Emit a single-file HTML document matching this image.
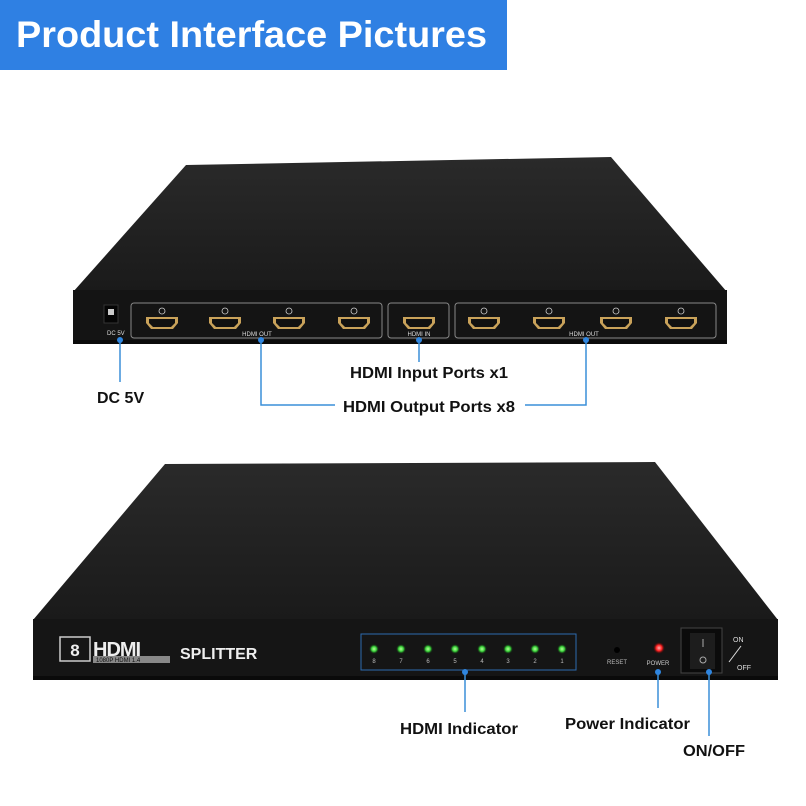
<!DOCTYPE html>
<html><head><meta charset="utf-8"><style>
html,body{margin:0;padding:0;background:#fff;width:806px;height:806px;overflow:hidden}
svg{display:block}
text{font-family:"Liberation Sans",Arial,sans-serif}
</style></head><body>
<svg width="806" height="806" viewBox="0 0 806 806" xmlns="http://www.w3.org/2000/svg">
<defs>
<linearGradient id="top1" x1="0" y1="0" x2="0" y2="1"><stop offset="0" stop-color="#2a2a2a"/><stop offset="1" stop-color="#1a1a1a"/></linearGradient>
<radialGradient id="g" cx="0.5" cy="0.5" r="0.5"><stop offset="0" stop-color="#b8ff9a"/><stop offset="0.5" stop-color="#3bd43b"/><stop offset="1" stop-color="#0a3a0a" stop-opacity="0"/></radialGradient>
<radialGradient id="r" cx="0.5" cy="0.5" r="0.5"><stop offset="0" stop-color="#ffb0b0"/><stop offset="0.5" stop-color="#ff2020"/><stop offset="1" stop-color="#400" stop-opacity="0"/></radialGradient>
<g id="port"><path d="M-16,-6 h32 v6 l-5,6 h-22 l-5,-6 z" fill="#c9a25a"/><path d="M-13,-4 h26 v4 l-4,4 h-18 l-4,-4 z" fill="#111"/></g>
</defs>
<rect x="0" y="0" width="507" height="70" fill="#2f80e3"/>
<text x="16" y="47" font-size="37" font-weight="bold" fill="#fff" textLength="471" lengthAdjust="spacingAndGlyphs">Product Interface Pictures</text>

<polygon points="186,165 611,157 727,292 73,292" fill="url(#top1)"/>
<rect x="73" y="290" width="654" height="54" fill="#141414"/>
<rect x="73" y="340" width="654" height="4" fill="#0a0a0a"/>
<rect x="104" y="305" width="14" height="18" fill="#050505" stroke="#333"/>
<rect x="108" y="309" width="6" height="6" fill="#ccc"/>
<text x="107" y="335" font-size="6" fill="#ddd">DC 5V</text>
<g fill="none" stroke="#888" stroke-width="1">
<rect x="131" y="303" width="251" height="35" rx="3"/>
<rect x="388" y="303" width="61" height="35" rx="3"/>
<rect x="455" y="303" width="261" height="35" rx="3"/>
</g>
<g fill="#ddd" font-size="6" text-anchor="middle">
<text x="257" y="336">HDMI OUT</text><text x="419" y="336">HDMI IN</text><text x="584" y="336">HDMI OUT</text>
</g>
<g fill="none" stroke="#ccc" stroke-width="0.8">
<circle cx="162" cy="311" r="3"/><circle cx="225" cy="311" r="3"/><circle cx="289" cy="311" r="3"/><circle cx="354" cy="311" r="3"/>
<circle cx="484" cy="311" r="3"/><circle cx="549" cy="311" r="3"/><circle cx="616" cy="311" r="3"/><circle cx="681" cy="311" r="3"/>
</g>
<use href="#port" x="162" y="323"/><use href="#port" x="225" y="323"/><use href="#port" x="289" y="323"/><use href="#port" x="354" y="323"/>
<use href="#port" x="419" y="323"/><use href="#port" x="484" y="323"/><use href="#port" x="549" y="323"/><use href="#port" x="616" y="323"/><use href="#port" x="681" y="323"/>

<g stroke="#3a8fd8" stroke-width="1.5" fill="none">
<path d="M120,340 V382"/>
<path d="M261,340 V405 H335"/>
<path d="M525,405 H586 V340"/>
<path d="M419,340 V362"/>
</g>
<g fill="#2f86e0"><circle cx="120" cy="340" r="3"/><circle cx="261" cy="340" r="3"/><circle cx="586" cy="340" r="3"/><circle cx="419" cy="340" r="3"/></g>
<g font-size="16" font-weight="bold" fill="#111">
<text x="97" y="403">DC 5V</text>
<text x="350" y="378" textLength="158" lengthAdjust="spacingAndGlyphs">HDMI Input Ports x1</text>
<text x="343" y="412" textLength="172" lengthAdjust="spacingAndGlyphs">HDMI Output Ports x8</text>
</g>

<polygon points="165,464 655,462 778,620 33,620" fill="url(#top1)"/>
<rect x="33" y="619" width="745" height="60" fill="#151515"/>
<rect x="33" y="676" width="745" height="4" fill="#0a0a0a"/>
<rect x="60" y="637" width="30" height="24" fill="none" stroke="#ccc" stroke-width="1.5"/>
<text x="75" y="656" font-size="17" font-weight="bold" fill="#eee" text-anchor="middle">8</text>
<text x="93" y="656" font-size="20" font-weight="bold" fill="#eee" letter-spacing="-1">HDMI</text>
<rect x="93" y="656" width="77" height="7" fill="#888"/>
<text x="96" y="662" font-size="6" fill="#111">1080P HDMI 1.4</text>
<text x="180" y="659" font-size="16" font-weight="bold" fill="#eee">SPLITTER</text>
<rect x="361" y="634" width="215" height="36" fill="none" stroke="#2d6ab0" stroke-width="1"/>
<g fill="url(#g)">
<circle cx="374" cy="649" r="5"/><circle cx="401" cy="649" r="5"/><circle cx="428" cy="649" r="5"/><circle cx="455" cy="649" r="5"/>
<circle cx="482" cy="649" r="5"/><circle cx="508" cy="649" r="5"/><circle cx="535" cy="649" r="5"/><circle cx="562" cy="649" r="5"/>
</g>
<g fill="#bbb" font-size="6" text-anchor="middle">
<text x="374" y="663">8</text><text x="401" y="663">7</text><text x="428" y="663">6</text><text x="455" y="663">5</text>
<text x="482" y="663">4</text><text x="508" y="663">3</text><text x="535" y="663">2</text><text x="562" y="663">1</text>
<text x="617" y="664">RESET</text><text x="658" y="665" fill="#ccc">POWER</text>
</g>
<circle cx="617" cy="650" r="3" fill="#000"/>
<circle cx="659" cy="648" r="6" fill="url(#r)"/>
<rect x="681" y="628" width="41" height="45" fill="#0b0b0b" stroke="#444"/>
<rect x="690" y="633" width="25" height="36" fill="#1d1d1d"/>
<line x1="703" y1="639" x2="703" y2="647" stroke="#aaa"/>
<circle cx="703" cy="660" r="3" fill="none" stroke="#aaa"/>
<text x="733" y="642" font-size="7" fill="#ddd">ON</text>
<line x1="741" y1="646" x2="729" y2="662" stroke="#ddd"/>
<text x="737" y="670" font-size="7" fill="#ddd">OFF</text>

<g stroke="#3a8fd8" stroke-width="1.5" fill="none">
<path d="M465,672 V712"/><path d="M658,672 V708"/><path d="M709,672 V736"/>
</g>
<g fill="#2f86e0"><circle cx="465" cy="672" r="3"/><circle cx="658" cy="672" r="3"/><circle cx="709" cy="672" r="3"/></g>
<g font-size="16" font-weight="bold" fill="#111">
<text x="400" y="734" textLength="118" lengthAdjust="spacingAndGlyphs">HDMI Indicator</text>
<text x="565" y="729" textLength="125" lengthAdjust="spacingAndGlyphs">Power Indicator</text>
<text x="683" y="756" textLength="62" lengthAdjust="spacingAndGlyphs">ON/OFF</text>
</g>
</svg>
</body></html>
